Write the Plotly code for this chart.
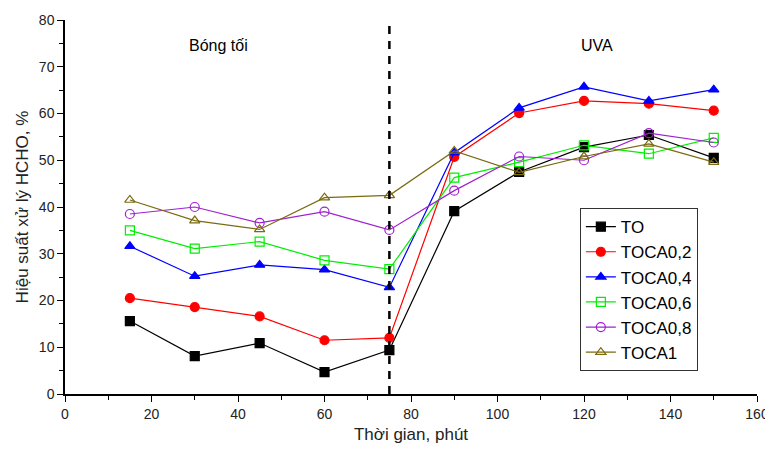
import plotly.graph_objects as go

time = [15, 30, 45, 60, 75, 90, 105, 120, 135, 150]
TO = [15.6, 8.1, 10.9, 4.7, 9.4, 39.1, 47.5, 52.8, 55.4, 50.5]
TOCA02 = [20.5, 18.6, 16.6, 11.5, 12.0, 50.7, 60.1, 62.7, 62.1, 60.6]
TOCA04 = [31.6, 25.2, 27.6, 26.6, 22.8, 51.6, 61.2, 65.7, 62.7, 65.1]
TOCA06 = [35.0, 31.1, 32.6, 28.6, 26.7, 46.3, 49.6, 53.2, 51.4, 54.8]
TOCA08 = [38.5, 40.0, 36.6, 39.0, 35.1, 43.5, 50.8, 50.0, 55.8, 53.8]
TOCA1 = [41.5, 37.1, 35.2, 42.0, 42.5, 52.0, 47.4, 50.8, 53.5, 49.6]

series = [
    ("TO", TO, "#000000", "square"),
    ("TOCA0,2", TOCA02, "#ff0000", "circle"),
    ("TOCA0,4", TOCA04, "#0000ff", "triangle-up"),
    ("TOCA0,6", TOCA06, "#00ee00", "square-open"),
    ("TOCA0,8", TOCA08, "#a020d0", "circle-open"),
    ("TOCA1", TOCA1, "#7a6a10", "triangle-up-open"),
]

fig = go.Figure()
for name, vals, color, sym in series:
    fig.add_trace(go.Scatter(
        x=time, y=vals, name=name, mode="lines+markers",
        line=dict(color=color, width=1.2),
        marker=dict(symbol=sym, size=9, color=color,
                    line=dict(color=color, width=1.2)),
    ))

fig.add_shape(type="line", x0=75, x1=75, y0=0, y1=80, xref="x", yref="y",
              line=dict(color="black", width=2.5, dash="8px,7px"))

fig.add_annotation(x=35.5, y=74.6, text="Bóng tối", showarrow=False,
                   font=dict(size=16, color="black"))
fig.add_annotation(x=123, y=74.6, text="UVA", showarrow=False,
                   font=dict(size=16, color="black"))

fig.update_layout(
    width=765, height=436,
    margin=dict(l=57, r=16, t=12, b=50, autoexpand=False),
    plot_bgcolor="white", paper_bgcolor="white",
    font=dict(family="Liberation Sans, Arial", size=14, color="#222"),
    legend=dict(x=0.744, y=0.497, xanchor="left", yanchor="top",
                bordercolor="#333", borderwidth=1, bgcolor="white",
                font=dict(size=17, color="black"), tracegroupgap=0),
    xaxis=dict(range=[0, 160], tickvals=[0, 20, 40, 60, 80, 100, 120, 140, 160],
               ticks="outside", ticklen=6, tickwidth=1, tickcolor="black",
               ticklabeloverflow="allow",
               showline=True, linecolor="black", linewidth=1.5, showgrid=False,
               zeroline=False, minor=dict(ticks="outside", ticklen=4, dtick=10, tickcolor="black"),
               title=dict(text="Thời gian, phút", font=dict(size=17), standoff=11)),
    yaxis=dict(range=[0, 80], dtick=10,
               ticks="outside", ticklen=6, tickwidth=1, tickcolor="black",
               showline=True, linecolor="black", linewidth=1.5, showgrid=False,
               zeroline=False, minor=dict(ticks="outside", ticklen=4, dtick=5, tickcolor="black"),
               title=dict(text="Hiệu suất xử lý HCHO, %", font=dict(size=17), standoff=6)),
)

fig.write_html("out.html")
